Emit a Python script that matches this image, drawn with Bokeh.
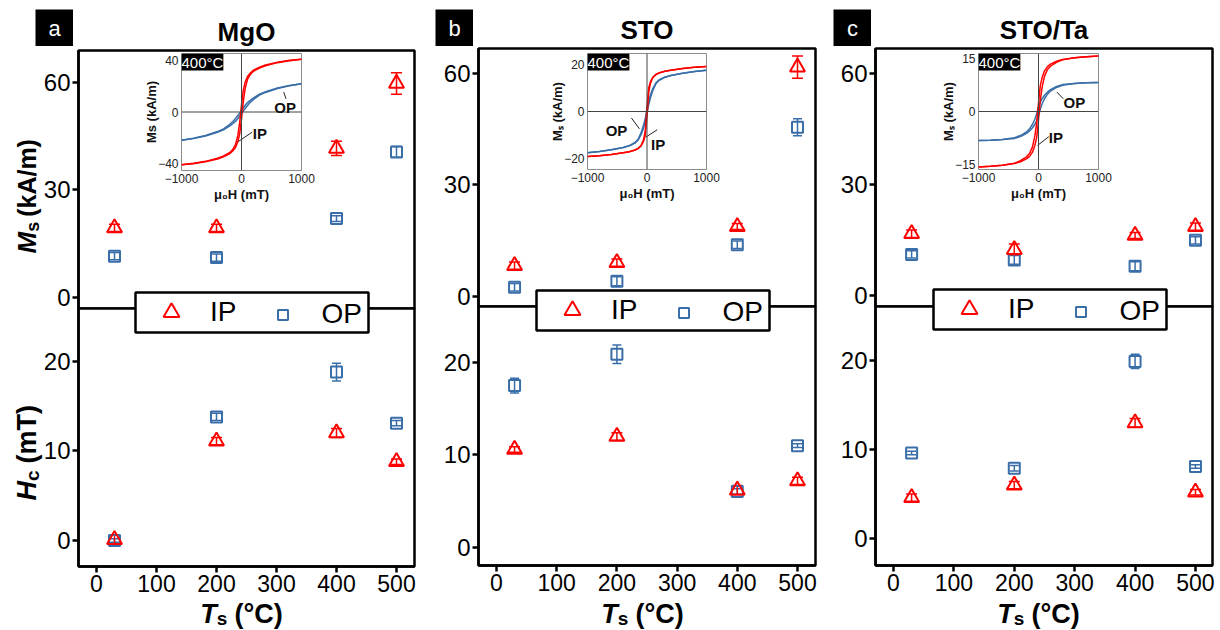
import math
from bokeh.plotting import figure
from bokeh.models import (Range1d, FixedTicker, Label, Legend, Whisker, TeeHead,
                          ColumnDataSource, Span)
from bokeh.embed import file_html
from bokeh.resources import INLINE

FONT = "Liberation Sans"
RED = "#ff0000"
BLUE = "#3a6ea8"

# ---------------- data ----------------
TS = [30, 200, 400, 500]
TS_TICKS = [0, 100, 200, 300, 400, 500]
MS_TICKS = [0, 30, 60]
HC_TICKS = [0, 10, 20]
SUBSTRATES = ["MgO", "STO", "STO/Ta"]
TAGS = ["a", "b", "c"]

MGO_MS_IP = [19.4, 19.4, 41.6, 59.7]
MGO_MS_IP_ERR = [1.0, 1.0, 2.0, 3.0]
MGO_MS_OP = [11.5, 11.1, 22.0, 40.6]
MGO_MS_OP_ERR = [1.0, 1.0, 0.8, 1.5]
MGO_HC_IP = [0.1, 11.1, 12.0, 8.8]
MGO_HC_IP_ERR = [0.5, 0.4, 0.5, 0.3]
MGO_HC_OP = [0.0, 13.8, 18.8, 13.1]
MGO_HC_OP_ERR = [0.2, 0.4, 1.0, 0.3]

STO_MS_IP = [8.3, 9.1, 18.8, 61.7]
STO_MS_IP_ERR = [1.0, 1.0, 0.8, 3.0]
STO_MS_OP = [2.5, 4.1, 13.9, 45.5]
STO_MS_OP_ERR = [1.0, 1.2, 1.0, 2.3]
STO_HC_IP = [10.6, 12.0, 6.2, 7.2]
STO_HC_IP_ERR = [0.3, 0.4, 0.5, 0.4]
STO_HC_OP = [17.5, 20.9, 6.05, 11.0]
STO_HC_OP_ERR = [0.8, 1.0, 0.3, 0.2]

TA_MS_IP = [16.7, 12.4, 16.2, 18.6]
TA_MS_IP_ERR = [1.0, 1.5, 0.8, 1.0]
TA_MS_OP = [11.1, 9.6, 7.9, 14.9]
TA_MS_OP_ERR = [1.0, 1.2, 1.2, 1.0]
TA_HC_IP = [4.6, 6.0, 13.0, 5.2]
TA_HC_IP_ERR = [0.4, 0.4, 0.5, 0.3]
TA_HC_OP = [9.6, 7.9, 19.9, 8.1]
TA_HC_OP_ERR = [0.2, 0.3, 0.8, 0.2]

# inset hysteresis loops (400 degC), field in mT, Ms in kA/m
H_FIELD = [-1000, -800, -600, -400, -300, -200, -150, -100, -60, -30, 0,
           30, 60, 100, 150, 200, 300, 400, 600, 800, 1000]
H_TICKS = [-1000, 0, 1000]

MGO_LOOP_IP_UP = [-40.9, -39.8, -38.3, -35.9, -34.1, -31.6, -29.3, -25.3, -18, -8, 5.5,
                  17, 23, 27.5, 30.5, 32.5, 34.8, 36.5, 38.6, 40.1, 41]
MGO_LOOP_IP_DN = [-41, -40.1, -38.6, -36.5, -34.8, -32.5, -30.5, -27.5, -23, -17, -5.5,
                  8, 18, 25.3, 29.3, 31.6, 34.1, 35.9, 38.3, 39.8, 40.9]
MGO_LOOP_OP_UP = [-21.9, -20.4, -18.3, -15.2, -13.1, -9.8, -7.7, -5, -2.7, -0.7, 1.3,
                  3.1, 5, 7.3, 9.3, 11, 13.9, 15.7, 18.6, 20.6, 22]
MGO_LOOP_OP_DN = [-22, -20.6, -18.6, -15.7, -13.9, -11, -9.3, -7.3, -5, -3.1, -1.3,
                  0.7, 2.7, 5, 7.7, 9.8, 13.1, 15.2, 18.3, 20.4, 21.9]

STO_LOOP_IP_UP = [-19.2, -18.8, -18.3, -17.6, -17.1, -16.4, -15.7, -14.5, -12.2, -8.5, 2.1,
                  10.2, 12.8, 14.7, 15.8, 16.4, 17.1, 17.6, 18.3, 18.8, 19.2]
STO_LOOP_IP_DN = [-19.2, -18.8, -18.3, -17.6, -17.1, -16.4, -15.8, -14.7, -12.8, -10.2, -2.1,
                  8.5, 12.2, 14.5, 15.7, 16.4, 17.1, 17.6, 18.3, 18.8, 19.2]
STO_LOOP_OP_UP = [-17.6, -17, -16.3, -15.3, -14.6, -13.2, -11.8, -9.1, -5.9, -3.1, 0.8,
                  4.5, 7.2, 9.9, 12.2, 13.4, 14.6, 15.3, 16.3, 17, 17.6]
STO_LOOP_OP_DN = [-17.6, -17, -16.3, -15.3, -14.6, -13.4, -12.2, -9.9, -7.2, -4.5, -0.8,
                  3.1, 5.9, 9.1, 11.8, 13.2, 14.6, 15.3, 16.3, 17, 17.6]

TA_LOOP_IP_UP = [-15.7, -15.5, -15.2, -14.6, -13.9, -12.8, -11.9, -10, -6.8, -3.2, 2.4,
                 7.3, 9.6, 11.5, 12.7, 13.4, 14.2, 14.7, 15.2, 15.5, 15.7]
TA_LOOP_IP_DN = [-15.7, -15.5, -15.2, -14.7, -14.2, -13.4, -12.7, -11.5, -9.6, -7.3, -2.4,
                 3.2, 6.8, 10, 11.9, 12.8, 13.9, 14.6, 15.2, 15.5, 15.7]
TA_LOOP_OP_UP = [-8.2, -8.1, -7.9, -7.4, -6.8, -5.8, -4.9, -3.6, -2.2, -0.6, 1.2,
                 2.6, 3.6, 4.6, 5.5, 6.2, 7.1, 7.6, 7.9, 8.1, 8.2]
TA_LOOP_OP_DN = [-8.2, -8.1, -7.9, -7.6, -7.1, -6.2, -5.5, -4.6, -3.6, -2.6, -1.2,
                 0.6, 2.2, 3.6, 4.9, 5.8, 6.8, 7.4, 7.9, 8.1, 8.2]

MGO_INSET_YTICKS = [-40, 0, 40]
STO_INSET_YTICKS = [-20, 0, 20]
TA_INSET_YTICKS = [-15, 0, 15]

# inset annotations ("OP"/"IP" notes and their pointer lines), in (mT, kA/m)
NOTE_TEXT = ["OP", "IP"]
MGO_NOTE_H = [726, 306]
MGO_NOTE_M = [3.5, -16.7]
MGO_PTR = dict(h0=[704, 177], m0=[15.4, -15.7], h1=[742, -53], m1=[10.2, -22.9])
STO_NOTE_H = [-512, 187]
STO_NOTE_M = [-8.1, -14.0]
STO_PTR = dict(h0=[-263, -20], m0=[-2.7, -10.9], h1=[-127, 171], m1=[-7.4, -7.8])
TA_NOTE_H = [597, 290]
TA_NOTE_M = [2.5, -7.4]
TA_PTR = dict(h0=[306, -16], m0=[5.5, -9.6], h1=[414, 173], m1=[3.6, -7.1])

# ---------------- layout (page pixels) ----------------
LAYOUT = [
    dict(fx=78, fw=336, top=50, mid=308, bot=566, rb=6, xr=(-30, 530),
         ms=(-3.1, 68.9), hc=(-2.9, 25.9),
         ins=(177, 53, 124, 117), ylim=45.4, leg=(135, 292), tag=(35, 9)),
    dict(fx=478, fw=337, top=48, mid=306, bot=565, rb=6, xr=(-29.9, 529.9),
         ms=(-2.7, 66.7), hc=(-1.95, 26.05),
         ins=(583, 53, 123, 116), ylim=24.7, leg=(536, 290), tag=(435, 9)),
    dict(fx=875, fw=337, top=48, mid=306, bot=565, rb=5, xr=(-29.8, 528.2),
         ms=(-3.0, 66.8), hc=(-3.03, 26.07),
         ins=(974, 53, 124, 116), ylim=16.4, leg=(933, 289), tag=(833, 9)),
]
PAGE_BOTTOM = 628

SERIES = [
    dict(ms_ip=MGO_MS_IP, ms_ip_e=MGO_MS_IP_ERR, ms_op=MGO_MS_OP, ms_op_e=MGO_MS_OP_ERR,
         hc_ip=MGO_HC_IP, hc_ip_e=MGO_HC_IP_ERR, hc_op=MGO_HC_OP, hc_op_e=MGO_HC_OP_ERR,
         l_ip_up=MGO_LOOP_IP_UP, l_ip_dn=MGO_LOOP_IP_DN, l_op_up=MGO_LOOP_OP_UP, l_op_dn=MGO_LOOP_OP_DN,
         yt=MGO_INSET_YTICKS, ylab="Ms (kA/m)", nh=MGO_NOTE_H, nm=MGO_NOTE_M, ptr=MGO_PTR),
    dict(ms_ip=STO_MS_IP, ms_ip_e=STO_MS_IP_ERR, ms_op=STO_MS_OP, ms_op_e=STO_MS_OP_ERR,
         hc_ip=STO_HC_IP, hc_ip_e=STO_HC_IP_ERR, hc_op=STO_HC_OP, hc_op_e=STO_HC_OP_ERR,
         l_ip_up=STO_LOOP_IP_UP, l_ip_dn=STO_LOOP_IP_DN, l_op_up=STO_LOOP_OP_UP, l_op_dn=STO_LOOP_OP_DN,
         yt=STO_INSET_YTICKS, ylab="Mₛ (kA/m)", nh=STO_NOTE_H, nm=STO_NOTE_M, ptr=STO_PTR),
    dict(ms_ip=TA_MS_IP, ms_ip_e=TA_MS_IP_ERR, ms_op=TA_MS_OP, ms_op_e=TA_MS_OP_ERR,
         hc_ip=TA_HC_IP, hc_ip_e=TA_HC_IP_ERR, hc_op=TA_HC_OP, hc_op_e=TA_HC_OP_ERR,
         l_ip_up=TA_LOOP_IP_UP, l_ip_dn=TA_LOOP_IP_DN, l_op_up=TA_LOOP_OP_UP, l_op_dn=TA_LOOP_OP_DN,
         yt=TA_INSET_YTICKS, ylab="Mₛ (kA/m)", nh=TA_NOTE_H, nm=TA_NOTE_M, ptr=TA_PTR),
]

CHAR_W = {"M": 0.833, "s": 0.556, " ": 0.278, "(": 0.333, "k": 0.556, "A": 0.722,
          "/": 0.278, "m": 0.889, ")": 0.333, "H": 0.722, "c": 0.556, "T": 0.611,
          "°": 0.4, "C": 0.722}

main_figs, inset_figs, over_figs = [], [], []


def place(fig, page_x, page_y, bucket):
    # every figure is its own root, pinned at an absolute page position
    fig.styles = {"position": "absolute", "left": f"{int(round(page_x))}px",
                  "top": f"{int(round(page_y))}px"}
    bucket.append(fig)


def base_fig(**kw):
    kw.setdefault("title", None)
    p = figure(toolbar_location=None, output_backend="svg", **kw)
    p.border_fill_color = None
    p.background_fill_color = "white"
    p.xgrid.visible = False
    p.ygrid.visible = False
    return p


def text_fig(x0, y0, w, h, bg=None):
    p = base_fig(width=w, height=h, min_border=0, x_range=Range1d(0, w),
                 y_range=Range1d(0, h), x_axis_location=None, y_axis_location=None)
    p.background_fill_color = bg
    p.outline_line_color = None
    place(p, x0, y0, over_figs)
    return p


def style_axis(ax, ticks, size):
    ax.ticker = FixedTicker(ticks=ticks)
    ax.major_label_text_font = FONT
    ax.major_label_text_font_size = f"{size}px"
    ax.major_label_text_color = "black"
    ax.major_label_standoff = 2
    ax.major_tick_in = 0
    ax.major_tick_out = 6
    ax.major_tick_line_width = 2.5
    ax.major_tick_line_color = "black"
    ax.minor_tick_line_color = None
    ax.axis_line_width = 2.5
    ax.axis_line_color = "black"


def series_source(vals, errs):
    lo = [v - e for v, e in zip(vals, errs)]
    hi = [v + e for v, e in zip(vals, errs)]
    return ColumnDataSource(dict(ts=TS, v=vals, lo=lo, hi=hi))


def add_series(p, src, marker, color, size, head):
    p.add_layout(Whisker(source=src, base="ts", lower="lo", upper="hi",
                         line_color=color, line_width=1.5,
                         lower_head=TeeHead(size=head, line_color=color, line_width=1.5),
                         upper_head=TeeHead(size=head, line_color=color, line_width=1.5)))
    return p.scatter("ts", "v", source=src, marker=marker, size=size, line_color=color,
                     fill_color=None, line_width=2)


def rich_label(p, pieces, x, y, vertical):
    """pieces laid out one after another; data units of a pixel-sized text figure"""
    pos = 0.0
    for text, size, style, shift, gap in pieces:
        pos += gap
        common = dict(text=text, text_font=FONT, text_font_size=f"{size}px",
                      text_font_style=style, text_color="black",
                      text_align="left", text_baseline="alphabetic")
        if vertical:
            lab = Label(x=x + shift, y=y + pos, angle=math.pi / 2, **common)
        else:
            lab = Label(x=x + pos, y=y - shift, **common)
        p.add_layout(lab)
        pos += sum(CHAR_W.get(c, 0.6) for c in text) * size


def outline(p):
    p.outline_line_color = "black"
    p.outline_line_width = 2.5


MS_PIECES = [("M", 26, "bold italic", 0, 0), ("s", 18, "bold", 6, 0), ("(kA/m)", 25, "bold", 0, 5)]
HC_PIECES = [("H", 27, "bold italic", 0, 0), ("c", 19, "bold", 6, 0), ("(mT)", 27, "bold", 0, 7)]
TS_PIECES = [("T", 27, "bold italic", 0, 0), ("s", 19, "bold", 5, 0), ("(°C)", 27, "bold", 0, 7)]


def pieces_len(pieces):
    return sum(g + sum(CHAR_W.get(c, 0.6) for c in t) * s for t, s, _, _, g in pieces)


for i, (name, tag) in enumerate(zip(SUBSTRATES, TAGS)):
    L = LAYOUT[i]
    S = SERIES[i]
    fx, fw, top, mid, bot, rb = L["fx"], L["fw"], L["top"], L["mid"], L["bot"], L["rb"]

    src_ms_ip = series_source(S["ms_ip"], S["ms_ip_e"])
    src_ms_op = series_source(S["ms_op"], S["ms_op_e"])
    src_hc_ip = series_source(S["hc_ip"], S["hc_ip_e"])
    src_hc_op = series_source(S["hc_op"], S["hc_op_e"])

    # ---- upper plot: Ms ----
    pt = base_fig(width=70 + fw + rb, height=mid + 3, min_border_left=70,
                  min_border_right=rb, min_border_top=top, min_border_bottom=3,
                  x_range=Range1d(*L["xr"]), y_range=Range1d(*L["ms"]),
                  x_axis_location=None, title=name)
    outline(pt)
    style_axis(pt.yaxis[0], MS_TICKS, 24)
    pt.title.text_font = FONT
    pt.title.text_font_size = "26px"
    pt.title.text_font_style = "bold"
    pt.title.text_color = "black"
    pt.title.align = "center"
    pt.title.offset = -10
    pt.title.standoff = 8
    add_series(pt, src_ms_op, "square", BLUE, 11, 9)
    add_series(pt, src_ms_ip, "triangle", RED, 15, 11)
    place(pt, fx - 70, 0, main_figs)

    # ---- lower plot: Hc ----
    pb = base_fig(width=70 + fw + rb, height=PAGE_BOTTOM - (mid - 3), min_border_left=70,
                  min_border_right=rb, min_border_top=3, min_border_bottom=PAGE_BOTTOM - bot,
                  x_range=Range1d(*L["xr"]), y_range=Range1d(*L["hc"]))
    outline(pb)
    style_axis(pb.yaxis[0], HC_TICKS, 24)
    style_axis(pb.xaxis[0], TS_TICKS, 23)
    add_series(pb, src_hc_op, "square", BLUE, 11, 9)
    add_series(pb, src_hc_ip, "triangle", RED, 15, 11)
    place(pb, fx - 70, mid - 3, main_figs)

    # ---- inset hysteresis loop ----
    ix, iy, iw, ih = L["ins"]
    ylim = L["ylim"]
    pi_ = base_fig(width=36 + iw + 16, height=2 + ih + 36, min_border_left=36,
                   min_border_right=16, min_border_top=2, min_border_bottom=36,
                   x_range=Range1d(-1000, 1000), y_range=Range1d(-ylim, ylim))
    pi_.outline_line_color = "#8c8c8c"
    pi_.outline_line_width = 1
    for ax, ticks in ((pi_.xaxis[0], H_TICKS), (pi_.yaxis[0], S["yt"])):
        ax.ticker = FixedTicker(ticks=ticks)
        ax.major_label_text_font = FONT
        ax.major_label_text_font_size = "12px"
        ax.major_label_text_color = "#222222"
        ax.major_tick_out = 0
        ax.major_tick_in = 0
        ax.major_tick_line_color = None
        ax.minor_tick_line_color = None
        ax.axis_line_color = None
        ax.major_label_standoff = 3
        ax.axis_label_text_font = FONT
        ax.axis_label_text_font_size = "13px"
        ax.axis_label_text_font_style = "bold"
        ax.axis_label_text_color = "#111111"
    pi_.xaxis[0].axis_label = "μ₀H (mT)"
    pi_.xaxis[0].axis_label_standoff = 1
    pi_.yaxis[0].axis_label = S["ylab"]
    pi_.yaxis[0].axis_label_standoff = -4
    pi_.add_layout(Span(location=0, dimension="width", line_color="#444444", line_width=1))
    pi_.add_layout(Span(location=0, dimension="height", line_color="#444444", line_width=1))
    pi_.line(H_FIELD, S["l_op_up"], line_color=BLUE, line_width=1.5)
    pi_.line(H_FIELD, S["l_op_dn"], line_color=BLUE, line_width=1.5)
    pi_.line(H_FIELD, S["l_ip_up"], line_color=RED, line_width=1.5)
    pi_.line(H_FIELD, S["l_ip_dn"], line_color=RED, line_width=1.5)
    ptr = S["ptr"]
    pi_.segment(ptr["h0"], ptr["m0"], ptr["h1"], ptr["m1"], line_color="#222222", line_width=1)
    for txt, h, m in zip(NOTE_TEXT, S["nh"], S["nm"]):
        pi_.add_layout(Label(x=h, y=m, text=txt, text_font=FONT, text_font_size="15px",
                             text_font_style="bold", text_color="#111111",
                             text_align="center", text_baseline="middle"))
    pi_.add_layout(Label(x=-1000, y=ylim, text="400°C",
                         text_font=FONT, text_font_size="15px", text_color="white",
                         text_align="left", text_baseline="top",
                         background_fill_color="black"))
    place(pi_, ix - 36, iy - 2, inset_figs)

    # ---- legend box (keys reuse the Ms series; their points lie outside this box) ----
    bx, by = L["leg"]
    pl = base_fig(width=237, height=44, min_border=2,
                  x_range=Range1d(0, 1), y_range=Range1d(0, 1),
                  x_axis_location=None, y_axis_location=None)
    outline(pl)
    r1 = pl.scatter("ts", "v", source=src_ms_ip, marker="triangle", size=16,
                    line_color=RED, fill_color=None, line_width=2)
    r2 = pl.scatter("ts", "v", source=src_ms_op, marker="square", size=11,
                    line_color=BLUE, fill_color=None, line_width=2)
    common_leg = dict(orientation="horizontal", padding=0, label_standoff=3,
                      label_text_font=FONT, label_text_font_size="28px",
                      label_text_color="black", border_line_color=None,
                      background_fill_alpha=0)
    leg_ip = Legend(items=[("IP", [r1])], location="top_left", margin=0,
                    glyph_width=72, glyph_height=40, label_height=40, **common_leg)
    leg_op = Legend(items=[("OP", [r2])], location="top_right", margin=6,
                    glyph_width=72, glyph_height=25, label_height=28, **common_leg)
    pl.add_layout(leg_ip, "center")
    pl.add_layout(leg_op, "center")
    place(pl, bx - 2, by - 2, over_figs)

    # ---- panel tag ----
    tx, ty = L["tag"]
    ptg = text_fig(tx, ty, 38, 37, bg="black")
    ptg.add_layout(Label(x=19, y=18.5, text=tag, text_align="center", text_baseline="middle",
                         text_color="white", text_font=FONT, text_font_size="22px"))

    # ---- x-axis title  T_s (°C) ----
    xt = text_fig(fx + fw / 2 - 5 - 60, 594, 120, 36)
    rich_label(xt, TS_PIECES, 60 - pieces_len(TS_PIECES) / 2, 36 - 19, False)

    if i == 0:
        # y-axis titles  M_s (kA/m)  and  H_c (mT)
        yt1 = text_fig(4, 110, 46, 156)
        rich_label(yt1, MS_PIECES, 22, 156 - (253 - 110), True)
        yt2 = text_fig(4, 380, 46, 140)
        rich_label(yt2, HC_PIECES, 22, 140 - (500 - 380), True)

roots = main_figs + inset_figs + over_figs

with open("out.html", "w") as fh:
    fh.write(file_html(roots, INLINE, title="Ms and Hc vs Ts"))
